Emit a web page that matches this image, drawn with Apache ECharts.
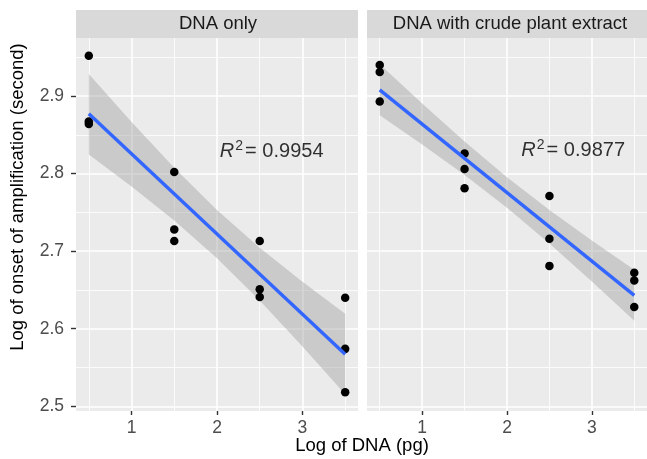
<!DOCTYPE html>
<html>
<head>
<meta charset="utf-8">
<script src="https://cdn.jsdelivr.net/npm/echarts@6/dist/echarts.min.js"></script>
<style>
  html, body { margin: 0; padding: 0; background: #fff; }
  #chart { width: 647px; height: 459px; }
</style>
</head>
<body>
<div id="chart"></div>
<script>
  // panels (facets)
  var panelNames = ['DNA only', 'DNA with crude plant extract'];
  var r2Labels = ['0.9954', '0.9877'];

  // observations: log DNA (pg) vs log onset of amplification
  var dnaX = [0.5, 0.5, 0.5, 1.5, 1.5, 1.5, 2.5, 2.5, 2.5, 3.5, 3.5, 3.5];
  var dnaOnlyY = [2.952, 2.867, 2.864, 2.802, 2.728, 2.713, 2.713, 2.651, 2.641, 2.640, 2.574, 2.518];
  var crudeY = [2.940, 2.931, 2.893, 2.826, 2.806, 2.781, 2.771, 2.716, 2.681, 2.672, 2.662, 2.628];

  // fitted lines
  var fitX = [0.5, 3.5];
  var dnaOnlyFit = [2.877, 2.567];
  var crudeFit = [2.908, 2.643];

  // confidence band
  var bandX = [0.5, 1, 1.5, 2, 2.5, 3, 3.5];
  var dnaOnlyLo = [2.8246, 2.7834, 2.7394, 2.6909, 2.6364, 2.5772, 2.5154];
  var dnaOnlyHi = [2.9284, 2.8666, 2.8074, 2.7529, 2.7044, 2.6604, 2.6192];
  var crudeLo = [2.8753, 2.8376, 2.7983, 2.7560, 2.7099, 2.6610, 2.6103];
  var crudeHi = [2.9409, 2.8902, 2.8413, 2.7952, 2.7529, 2.7136, 2.6759];

  // axis ticks
  var xTicks = [1, 2, 3];
  var xMinor = [0.5, 1.5, 2.5, 3.5];
  var yTicks = [2.5, 2.6, 2.7, 2.8, 2.9];
  var yMinor = [2.55, 2.65, 2.75, 2.85, 2.95];

  var FONT = 'Liberation Sans, Arial, sans-serif';
  var myChart = echarts.init(document.getElementById('chart'));

  function pairs(xs, ys) {
    return xs.map(function (x, i) { return [x, ys[i]]; });
  }

  function bandSeries(idx, lo, hi) {
    return {
      type: 'custom',
      xAxisIndex: idx * 2,
      yAxisIndex: idx * 2,
      data: [[bandX[0], lo[0]]],
      silent: true,
      clip: true,
      renderItem: function (params, api) {
        var pts = [];
        for (var i = 0; i < bandX.length; i++) pts.push(api.coord([bandX[i], hi[i]]));
        for (var j = bandX.length - 1; j >= 0; j--) pts.push(api.coord([bandX[j], lo[j]]));
        return {
          type: 'polygon',
          shape: { points: pts },
          style: { fill: 'rgba(153,153,153,0.4)' }
        };
      }
    };
  }

  var xAxes = [], yAxes = [], grids = [];
  [76, 367].forEach(function (left, p) {
    grids.push({ left: left, top: 38, width: 282, height: 373, backgroundColor: '#EBEBEB', show: true, borderWidth: 0 });
    // major axis
    xAxes.push({
      type: 'value', gridIndex: p, min: 0.35, max: 3.65,
      axisLine: { show: false },
      axisTick: { show: true, length: 4, customValues: xTicks, lineStyle: { color: '#333', width: 1.4 } },
      axisLabel: { customValues: xTicks, color: '#4D4D4D', fontSize: 17.5, fontFamily: FONT, margin: 8 },
      splitLine: { show: true, lineStyle: { color: '#fff', width: 1.6 } }
    });
    // minor grid
    xAxes.push({
      type: 'value', gridIndex: p, min: 0.35, max: 3.65,
      axisLine: { show: false },
      axisTick: { show: false, customValues: xMinor },
      axisLabel: { show: false, customValues: xMinor },
      splitLine: { show: true, lineStyle: { color: '#fff', width: 0.8 } }
    });
    yAxes.push({
      type: 'value', gridIndex: p, min: 2.4939, max: 2.9748,
      axisLine: { show: false },
      axisTick: { show: p === 0, length: 5, customValues: yTicks, lineStyle: { color: '#333', width: 1.4 } },
      axisLabel: { show: p === 0, customValues: yTicks, color: '#4D4D4D', fontSize: 17.5, fontFamily: FONT, margin: 12,
        formatter: function (v) { return v.toFixed(1); } },
      splitLine: { show: true, lineStyle: { color: '#fff', width: 1.6 } }
    });
    yAxes.push({
      type: 'value', gridIndex: p, min: 2.4939, max: 2.9748,
      axisLine: { show: false },
      axisTick: { show: false, customValues: yMinor },
      axisLabel: { show: false, customValues: yMinor },
      splitLine: { show: true, lineStyle: { color: '#fff', width: 0.8 } }
    });
  });

  var panelY = [dnaOnlyY, crudeY];
  var panelFit = [dnaOnlyFit, crudeFit];
  var panelLo = [dnaOnlyLo, crudeLo];
  var panelHi = [dnaOnlyHi, crudeHi];
  var r2Pos = [[2.64, 2.829], [2.78, 2.83]];

  var series = [];
  panelNames.forEach(function (name, p) {
    series.push({
      type: 'scatter', xAxisIndex: p * 2, yAxisIndex: p * 2,
      data: pairs(dnaX, panelY[p]),
      symbolSize: 8.5,
      itemStyle: { color: '#000', opacity: 1 },
      silent: true
    });
    series.push(bandSeries(p, panelLo[p], panelHi[p]));
    series.push({
      type: 'line', xAxisIndex: p * 2, yAxisIndex: p * 2,
      data: pairs(fitX, panelFit[p]),
      showSymbol: false, symbol: 'none',
      lineStyle: { color: '#3366FF', width: 3.4 },
      silent: true
    });
    series.push({
      type: 'scatter', xAxisIndex: p * 2, yAxisIndex: p * 2,
      data: [r2Pos[p]],
      symbolSize: 0,
      silent: true,
      label: {
        show: true, position: 'inside',
        formatter: '{i|R}{s|2}{n|= ' + r2Labels[p] + '}',
        rich: {
          i: { fontStyle: 'italic', fontSize: 20, color: '#000', fontFamily: FONT, lineHeight: 24 },
          s: { fontSize: 14, color: '#000', fontFamily: FONT, verticalAlign: 'top', lineHeight: 14, padding: [0, 2, 0, 1] },
          n: { fontSize: 20, color: '#000', fontFamily: FONT, lineHeight: 24 }
        }
      }
    });
  });

  myChart.setOption({
    backgroundColor: '#fff',
    animation: false,
    grid: grids,
    xAxis: xAxes,
    yAxis: yAxes,
    series: series,
    graphic: [
      { type: 'rect', shape: { x: 76, y: 10, width: 282, height: 28 }, style: { fill: '#D9D9D9' }, silent: true },
      { type: 'rect', shape: { x: 367, y: 10, width: 282, height: 28 }, style: { fill: '#D9D9D9' }, silent: true },
      { type: 'text', x: 218, y: 24, style: { text: panelNames[0], font: '18.5px ' + FONT, fill: '#1A1A1A', align: 'center', verticalAlign: 'middle' }, silent: true },
      { type: 'text', x: 510, y: 24, style: { text: panelNames[1], font: '18.5px ' + FONT, fill: '#1A1A1A', align: 'center', verticalAlign: 'middle' }, silent: true },
      { type: 'text', x: 362, y: 446, style: { text: 'Log of DNA (pg)', font: '18.5px ' + FONT, fill: '#000', align: 'center', verticalAlign: 'middle' }, silent: true },
      { type: 'text', x: 18, y: 197, rotation: Math.PI / 2, style: { text: 'Log of onset of amplification (second)', font: '18.5px ' + FONT, fill: '#000', align: 'center', verticalAlign: 'middle' }, silent: true }
    ]
  });

  window.addEventListener('resize', function () {
    myChart.resize();
  });
</script>
</body>
</html>
